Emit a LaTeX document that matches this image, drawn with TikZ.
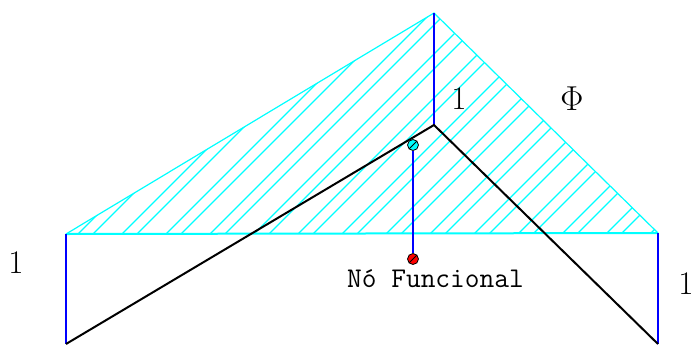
\documentclass[tikz,border=0pt]{standalone}
\definecolor{cyn}{RGB}{0,255,255}
\definecolor{blu}{RGB}{0,0,255}
\definecolor{rd}{RGB}{255,0,0}
\begin{document}
\begin{tikzpicture}[x=0.5pt,y=-0.5pt,
  blk/.style={line width=1pt,black},
  bl/.style={line width=0.6pt,blu},
  cy/.style={line width=0.6pt,cyn},
  lbl/.style={font=\fontsize{16.5}{18}\selectfont,inner sep=0pt},
  marker/.style={circle,draw=black,line width=0.4pt,minimum size=5.5pt,inner sep=0pt,
    path picture={\draw[line width=0.4pt] (path picture bounding box.south west) -- (path picture bounding box.north east);}}
]
\useasboundingbox (0,0) rectangle (693,344);
\coordinate (L) at (66,234);
\coordinate (T) at (434,13);
\coordinate (R) at (658,233);
\coordinate (LB) at (66,344);
\coordinate (RB) at (658,344);
\coordinate (P) at (434,125);
% hatched triangle
\begin{scope}
\clip (L) -- (T) -- (R) -- cycle;
\foreach \k in {-1,...,14} {
  \draw[cy] (78+44*\k,234) -- ++(320,-320);
  \draw[cy] (93+44*\k,234) -- ++(320,-320);
}
\end{scope}
\draw[cy] (L) -- (T) -- (R);
\draw[cyn,line width=1pt] (L) -- (R);
% blue verticals
\draw[bl] (L) -- (LB);
\draw[bl] (R) -- (RB);
\draw[bl] (T) -- (P);
% black line
\draw[blk] (LB) -- (P) -- (RB);
% markers
\node[marker,fill=cyn] (cn) at (413,145) {};
\node[marker,fill=rd] (rn) at (413,259) {};
\draw[bl] (cn) -- (rn);
% labels
\node[lbl] (l1) at (459,99) {1};
\node[lbl] (phi) at (572,99) {$\Phi$};
\node[lbl] (l2) at (16,263) {1};
\node[lbl] (l3) at (686,284) {1};
\node[font=\fontsize{14.3}{16}\ttfamily,inner sep=0pt,anchor=base] (nf) at (435.5,287) {Nó Funcional};
\end{tikzpicture}
\end{document}
